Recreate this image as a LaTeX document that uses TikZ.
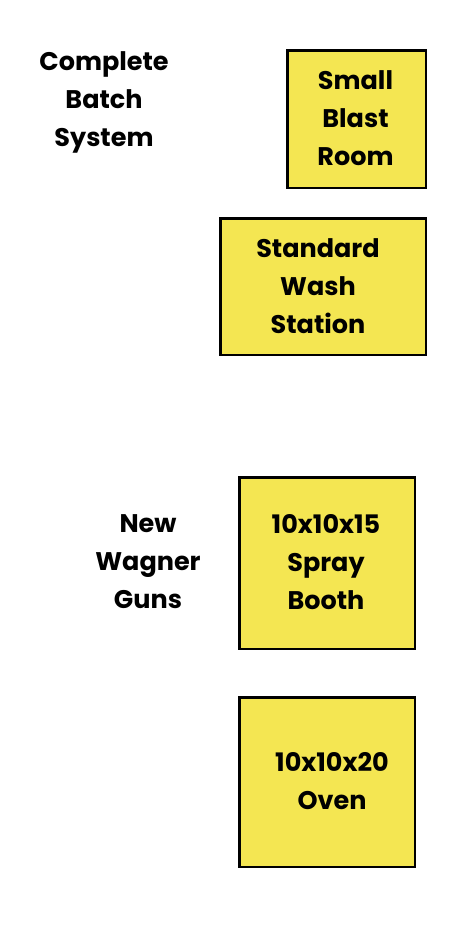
\documentclass[tikz,border=0pt]{standalone}
\usepackage{fontspec}
\setmainfont{Poppins}
\definecolor{boxyellow}{RGB}{244,230,82}
\begin{document}
\begin{tikzpicture}[x=1pt,y=-1pt,
  lbl/.style={font=\bfseries\fontsize{25.5}{38}\selectfont, align=center, inner sep=0pt},
  room/.style={draw=black, line width=2.6pt, fill=boxyellow, inner sep=0pt, anchor=north west}]
\useasboundingbox (0,0) rectangle (474,948);
\node[room, minimum width=138.4pt, minimum height=137.4pt] (blast) at (286.3,49.3) {};
\node[room, minimum width=205.4pt, minimum height=136.4pt] (wash) at (219.3,217.3) {};
\node[room, minimum width=175.4pt, minimum height=171.4pt] (spray) at (238.3,476.3) {};
\node[room, minimum width=175.4pt, minimum height=169.4pt] (oven) at (238.3,696.3) {};
\node[lbl] (tblast) at (355.5,118) {Small\\Blast\\Room};
\node[lbl] (twash) at (318,286) {Standard\\Wash\\Station};
\node[lbl] (tspray) at (326,562) {10x10x15\\Spray\\Booth};
\node[lbl] (toven) at (332,781) {10x10x20\\Oven};
\node[lbl] (batch) at (104,102) {Complete\\Batch\\System};
\node[lbl] (guns) at (148,562) {New\\Wagner\\Guns};
\end{tikzpicture}
\end{document}
